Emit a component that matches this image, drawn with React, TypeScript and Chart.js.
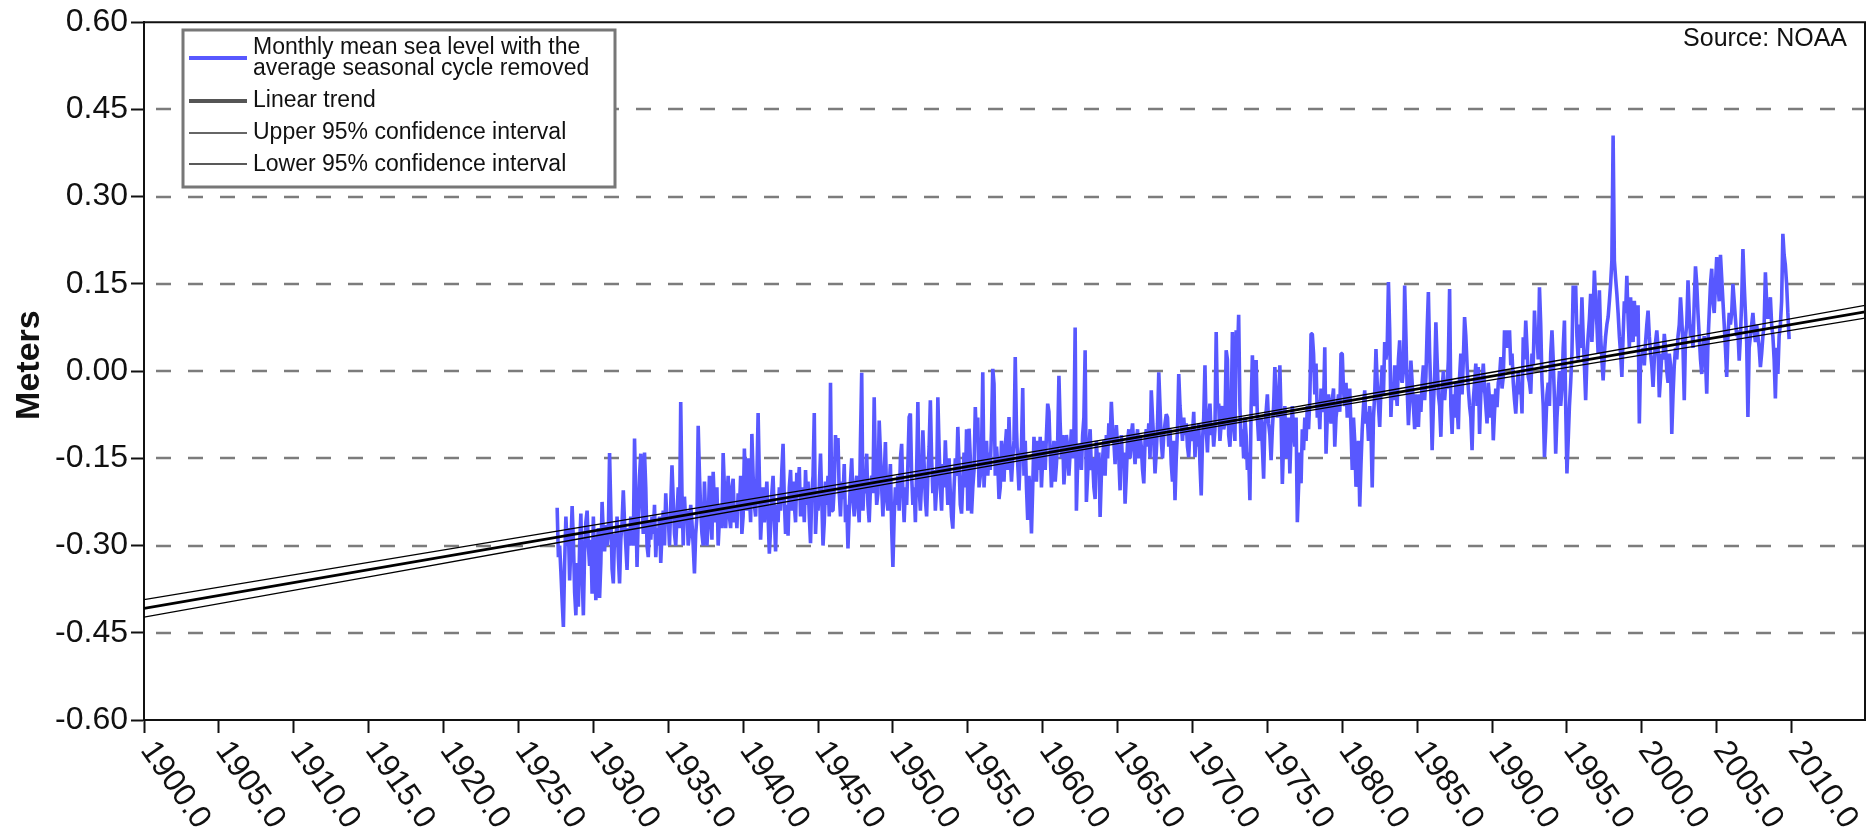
import React, { useEffect, useRef } from "react";
import { Chart, registerables } from "chart.js";

Chart.register(...registerables);

// ---- Data ----
const START_YEAR = 1927;
const START_MONTH = 8; // first monthly value: August 1927

// Monthly mean sea level, seasonal cycle removed, in millimetres (one row per year)
const seaLevelMm: number[] = [
  -235, -320, -300, -345, -395, // 1927 Aug-Dec
  -440, -330, -250, -300, -270, -360, -300, -232, -290, -380, -420, -330, // 1928
  -405, -300, -245, -350, -420, -310, -260, -240, -300, -335, -290, -383, // 1929
  -250, -320, -394, -300, -270, -390, -330, -225, -280, -310, -265, -300, // 1930
  -280, -141, -240, -340, -365, -280, -300, -250, -320, -365, -290, -260, // 1931
  -205, -260, -300, -342, -270, -300, -250, -280, -300, -116, -220, -337, // 1932
  -250, -180, -142, -230, -280, -140, -200, -300, -320, -260, -290, -250, // 1933
  -280, -230, -320, -270, -300, -250, -330, -280, -240, -300, -210, -260, // 1934
  -250, -300, -230, -162, -220, -280, -300, -250, -200, -270, -53, -210, // 1935
  -300, -216, -260, -240, -300, -280, -230, -260, -300, -348, -280, -250, // 1936
  -94, -177, -240, -280, -300, -190, -250, -300, -260, -180, -240, -290, // 1937
  -173, -230, -260, -200, -300, -255, -230, -270, -141, -200, -270, -220, // 1938
  -180, -250, -270, -200, -185, -260, -230, -270, -210, -240, -180, -280, // 1939
  -250, -133, -200, -240, -150, -210, -260, -108, -180, -230, -250, -190, // 1940
  -72, -180, -290, -240, -200, -260, -230, -190, -250, -314, -270, -210, // 1941
  -180, -250, -310, -230, -260, -200, -240, -170, -125, -220, -280, -230, // 1942
  -283, -200, -170, -240, -190, -230, -260, -175, -200, -165, -250, -220, // 1943
  -200, -260, -170, -230, -190, -250, -296, -210, -180, -72, -280, -230, // 1944
  -240, -200, -142, -220, -300, -260, -190, -230, -180, -250, -20, -240, // 1945
  -240, -200, -110, -150, -115, -210, -250, -190, -220, -160, -260, -230, // 1946
  -305, -240, -190, -150, -220, -250, -200, -180, -230, -260, -120, -3, // 1947
  -240, -190, -210, -142, -230, -260, -200, -180, -210, -45, -170, -230, // 1948
  -210, -85, -140, -200, -250, -180, -122, -220, -240, -200, -160, -270, // 1949
  -337, -250, -200, -230, -180, -240, -150, -125, -210, -260, -200, -230, // 1950
  -160, -79, -73, -180, -230, -200, -260, -170, -53, -200, -240, -190, // 1951
  -102, -160, -220, -250, -180, -130, -50, -150, -210, -170, -240, -200, // 1952
  -45, -131, -200, -240, -160, -200, -119, -180, -230, -150, -210, -250, // 1953
  -271, -200, -150, -180, -96, -160, -230, -245, -190, -140, -200, -100, // 1954
  -240, -99, -150, -245, -200, -170, -62, -120, -80, -200, -180, -140, // 1955
  -2, -200, -150, -120, -180, -140, -170, -100, 4, -22, -180, -130, // 1956
  -160, -220, -200, -120, -150, -190, -130, -100, -170, -79, -150, -190, // 1957
  -150, -120, 24, -100, -160, -205, -150, -130, -29, -180, -120, -200, // 1958
  -256, -180, -210, -279, -200, -113, -150, -190, -120, -170, -113, -200, // 1959
  -150, -120, -170, -110, -56, -70, -140, -200, -150, -120, -190, -160, // 1960
  -120, -8, -90, -150, -110, -195, -160, -110, -130, -180, -140, -100, // 1961
  -150, -110, 75, -240, -160, -125, -140, -170, -110, -80, 36, -225, // 1962
  -180, -130, -100, -170, -150, -200, -220, -120, -160, -140, -251, -180, // 1963
  -150, -119, -180, -110, -150, -90, -120, -53, -100, -120, -160, -93, // 1964
  -130, -150, -205, -110, -160, -140, -228, -180, -120, -100, -150, -110, // 1965
  -90, -130, -160, -120, -100, -150, -110, -130, -170, -193, -120, -100, // 1966
  -130, -90, -150, -33, -80, -120, -176, -140, -90, -2, -60, -120, // 1967
  -150, -110, -90, -74, -80, -130, -100, -160, -190, -120, -222, -150, // 1968
  -100, -5, -60, -90, -120, -80, -110, -90, -130, -148, -100, -120, // 1969
  -110, -70, -148, -100, -130, -90, -160, -214, -120, -80, 10, -100, // 1970
  -140, -80, -56, -110, -90, -130, -100, 67, -60, -56, -120, -90, // 1971
  -60, -100, -90, 36, 20, -110, -130, -80, 67, -90, -120, 70, // 1972
  20, 97, -60, -130, -100, -150, -80, -110, -170, -140, -222, -60, // 1973
  27, -40, -60, 19, -80, -120, -100, -80, -130, -185, -90, -70, // 1974
  -40, -90, -110, -153, -100, -60, 7, -50, -80, -60, 10, -80, // 1975
  -194, -120, -60, -150, -90, -80, -176, -110, -60, -100, -130, -80, // 1976
  -260, -200, -140, -193, -100, -136, -80, -120, -60, -100, -50, 64, // 1977
  64, 30, -40, 13, -80, -50, -100, -30, -70, -60, 41, -142, // 1978
  -80, -40, -70, -90, -50, -30, -130, -80, -60, -40, -70, 30, // 1979
  30, -33, -60, -20, -80, -50, -30, -100, -170, -80, -120, -199, // 1980
  -150, -120, -233, -160, -100, -60, -33, -90, -70, -120, -60, -100, // 1981
  -200, -80, -40, 38, -20, -60, -96, -30, 10, -40, 50, 20, // 1982
  40, 153, 70, -79, -20, -50, 10, -30, -60, 20, 53, -10, // 1983
  -20, 0, 147, 60, -30, -93, -50, 18, -20, -60, -100, -40, // 1984
  -60, -96, -40, -70, -20, 10, -50, -10, 70, 136, 30, -40, // 1985
  -136, -60, -10, 84, 20, -40, -60, -113, -30, 0, -50, -20, // 1986
  -30, 20, 141, -60, -108, -40, -80, -20, -62, -100, -10, 30, // 1987
  -40, 20, 93, 60, 10, -30, -60, -80, -136, -50, -20, 13, // 1988
  -60, 7, -108, -40, -20, 13, -30, -60, -90, -20, -50, -80, // 1989
  -40, -119, -70, -30, -62, -20, -10, 24, -30, -10, 70, 40, // 1990
  70, 40, 70, 10, 30, -20, -50, -73, -30, 0, -40, -20, // 1991
  -73, 58, 20, 87, 40, -10, -20, -39, 30, 10, 104, 50, // 1992
  60, 20, 144, 80, -16, -60, -148, -100, -40, -20, -60, 30, // 1993
  70, 20, -50, -142, -80, -40, 0, -60, -30, 40, 87, -60, // 1994
  -176, -120, -60, -20, 30, 147, 100, 147, 60, 20, 80, 40, // 1995
  127, 60, 10, -50, 20, 60, 90, 133, 50, 100, 173, 120, // 1996
  80, 30, 139, 60, 20, -16, 30, 60, 80, 93, 120, 150, // 1997
  190, 405, 190, 160, 133, 100, 60, 30, -10, 60, 120, 100, // 1998
  164, 90, 40, 127, 70, 50, 121, 80, 60, 113, -90, 20, // 1999
  20, 40, 10, 50, 80, 104, 60, 30, 10, -27, 20, 50, // 2000
  70, 40, -45, -10, 30, 20, 64, 40, 0, -20, 30, 10, // 2001
  -108, -40, 10, 40, 20, 60, 80, 127, 90, 40, -50, 60, // 2002
  80, 156, 100, 60, 80, 40, 120, 180, 150, 100, 60, 20, // 2003
  -5, 40, 60, 20, -39, 50, 100, 150, 176, 120, 100, 150, // 2004
  196, 150, 120, 200, 160, 120, 80, 40, -10, 60, 100, 80, // 2005
  100, 150, 120, 90, 60, 70, 18, 60, 120, 210, 150, 100, // 2006
  50, -79, 40, 60, 80, 100, 70, 50, 80, 60, 40, 7, // 2007
  30, 60, 80, 170, 120, 90, 110, 127, 80, 60, 20, -47, // 2008
  40, -5, 60, 80, 120, 236, 200, 182, 150, 100, 55, // 2009 Jan-Nov
];

// Linear trend (metres)
const trendYears = [1900, 2014.9];
const trendValues = [-0.408, 0.102];

// 95% confidence band (metres)
const ciYears = [1900, 1915, 1930, 1945, 1960, 1975, 1990, 2005, 2014.9];
const upperCI = [-0.393, -0.329, -0.265, -0.201, -0.136, -0.07, -0.002, 0.067, 0.113];
const lowerCI = [-0.423, -0.354, -0.284, -0.215, -0.147, -0.08, -0.015, 0.049, 0.091];

// Axes
const xTickValues = [
  1900, 1905, 1910, 1915, 1920, 1925, 1930, 1935, 1940, 1945, 1950, 1955,
  1960, 1965, 1970, 1975, 1980, 1985, 1990, 1995, 2000, 2005, 2010,
];
const yTickValues = [-0.6, -0.45, -0.3, -0.15, 0, 0.15, 0.3, 0.45, 0.6];
const X_MIN = 1900;
const X_MAX = 2014.9;

// Texts
const seriesLabelLines = ["Monthly mean sea level with the", "average seasonal cycle removed"];
const trendLabel = "Linear trend";
const upperLabel = "Upper 95% confidence interval";
const lowerLabel = "Lower 95% confidence interval";
const sourceText = "Source: NOAA";
const yTitle = "Meters";

const FONT = "'Liberation Sans', Arial, Helvetica, sans-serif";
const BLUE = "#5858ff";

export default function App() {
  const canvasRef = useRef<HTMLCanvasElement | null>(null);

  useEffect(() => {
    const canvas = canvasRef.current;
    if (!canvas) return;

    const monthly = seaLevelMm.map((v, i) => ({
      x: START_YEAR + (START_MONTH - 1 + i) / 12,
      y: v / 1000,
    }));
    const trend = trendYears.map((x, i) => ({ x, y: trendValues[i] }));
    const upper = ciYears.map((x, i) => ({ x, y: upperCI[i] }));
    const lower = ciYears.map((x, i) => ({ x, y: lowerCI[i] }));

    const decorPlugin = {
      id: "decor",
      beforeDatasetsDraw(chart: any) {
        const { ctx, chartArea: a, scales } = chart;
        ctx.save();
        ctx.beginPath();
        ctx.rect(a.left, a.top, a.right - a.left, a.bottom - a.top);
        ctx.clip();
        ctx.strokeStyle = "#7c7c7c";
        ctx.lineWidth = 2.5;
        ctx.setLineDash([15, 17]);
        yTickValues
          .filter((v) => v > -0.6 && v < 0.6)
          .forEach((v) => {
            const y = Math.round(scales.y.getPixelForValue(v));
            ctx.beginPath();
            ctx.moveTo(a.left + 12, y);
            ctx.lineTo(a.right, y);
            ctx.stroke();
          });
        ctx.restore();
      },
      afterDraw(chart: any) {
        const { ctx, chartArea: a, scales } = chart;
        ctx.save();
        // frame (top / right)
        ctx.strokeStyle = "#111";
        ctx.lineWidth = 2;
        ctx.beginPath();
        ctx.moveTo(a.left, a.top);
        ctx.lineTo(a.right, a.top);
        ctx.lineTo(a.right, a.bottom);
        ctx.stroke();

        // x tick labels, rotated clockwise
        ctx.fillStyle = "#111";
        ctx.font = `32px ${FONT}`;
        ctx.textAlign = "left";
        ctx.textBaseline = "middle";
        xTickValues.forEach((v) => {
          const px = scales.x.getPixelForValue(v);
          ctx.save();
          ctx.translate(px + 3, a.bottom + 25);
          ctx.rotate((55 * Math.PI) / 180);
          ctx.fillText(v.toFixed(1), 0, 0);
          ctx.restore();
        });

        // y axis title
        ctx.save();
        ctx.translate(30, (a.top + a.bottom) / 2 - 6);
        ctx.rotate(-Math.PI / 2);
        ctx.font = `bold 34px ${FONT}`;
        ctx.textAlign = "center";
        ctx.textBaseline = "middle";
        ctx.fillText(yTitle, 0, 0);
        ctx.restore();

        // source
        ctx.font = `25px ${FONT}`;
        ctx.textAlign = "right";
        ctx.textBaseline = "middle";
        ctx.fillText(sourceText, 1847, 39);

        // legend box
        const bx = 183, by = 30, bw = 432, bh = 157;
        ctx.fillStyle = "#fff";
        ctx.fillRect(bx, by, bw, bh);
        ctx.strokeStyle = "#777";
        ctx.lineWidth = 3;
        ctx.strokeRect(bx, by, bw, bh);

        const sx1 = 189, sx2 = 247, tx = 253;
        const sample = (y: number, color: string, w: number) => {
          ctx.strokeStyle = color;
          ctx.lineWidth = w;
          ctx.beginPath();
          ctx.moveTo(sx1, y);
          ctx.lineTo(sx2, y);
          ctx.stroke();
        };
        sample(58, BLUE, 4);
        sample(101, "#555", 4);
        sample(133, "#333", 1.5);
        sample(164, "#222", 1.5);

        ctx.fillStyle = "#111";
        ctx.font = `23px ${FONT}`;
        ctx.textAlign = "left";
        ctx.textBaseline = "middle";
        ctx.fillText(seriesLabelLines[0], tx, 48);
        ctx.fillText(seriesLabelLines[1], tx, 69);
        ctx.fillText(trendLabel, tx, 101);
        ctx.fillText(upperLabel, tx, 133);
        ctx.fillText(lowerLabel, tx, 165);
        ctx.restore();
      },
    };

    const chart = new Chart(canvas, {
      type: "line",
      data: {
        datasets: [
          {
            label: trendLabel,
            data: trend,
            borderColor: "#000",
            borderWidth: 2.8,
            pointRadius: 0,
          },
          {
            label: upperLabel,
            data: upper,
            borderColor: "#000",
            borderWidth: 1.3,
            pointRadius: 0,
          },
          {
            label: lowerLabel,
            data: lower,
            borderColor: "#000",
            borderWidth: 1.3,
            pointRadius: 0,
          },
          {
            label: seriesLabelLines.join(" "),
            data: monthly,
            borderColor: BLUE,
            borderWidth: 3.6,
            pointRadius: 0,
            borderJoinStyle: "bevel",
          },
        ],
      },
      options: {
        animation: false,
        responsive: false,
        events: [],
        layout: { padding: { top: 21, right: 7, left: 0, bottom: 0 } },
        plugins: {
          legend: { display: false },
          tooltip: { enabled: false },
        },
        scales: {
          x: {
            type: "linear",
            min: X_MIN,
            max: X_MAX,
            afterBuildTicks: (s: any) => {
              s.ticks = xTickValues.map((value) => ({ value }));
            },
            afterFit: (s: any) => {
              s.height = 107;
            },
            ticks: { display: false },
            grid: {
              drawOnChartArea: false,
              drawTicks: true,
              tickLength: 13,
              tickColor: "#111",
              tickWidth: 2,
            },
            border: { display: true, color: "#111", width: 2 },
          },
          y: {
            type: "linear",
            min: -0.6,
            max: 0.6,
            afterBuildTicks: (s: any) => {
              s.ticks = yTickValues.map((value) => ({ value }));
            },
            afterFit: (s: any) => {
              s.width = 144;
            },
            ticks: {
              color: "#111",
              padding: 3,
              font: { family: FONT, size: 32 },
              callback: (v: any) => Number(v).toFixed(2),
            },
            grid: {
              drawOnChartArea: false,
              drawTicks: true,
              tickLength: 13,
              tickColor: "#111",
              tickWidth: 2,
            },
            border: { display: true, color: "#111", width: 2 },
          },
        },
      },
      plugins: [decorPlugin],
    } as any);

    return () => chart.destroy();
  }, []);

  return (
    <div
      style={{
        position: "absolute",
        left: 0,
        top: 0,
        width: 1872,
        height: 827,
        background: "#fff",
      }}
    >
      <canvas ref={canvasRef} width={1872} height={827} style={{ display: "block" }} />
    </div>
  );
}
